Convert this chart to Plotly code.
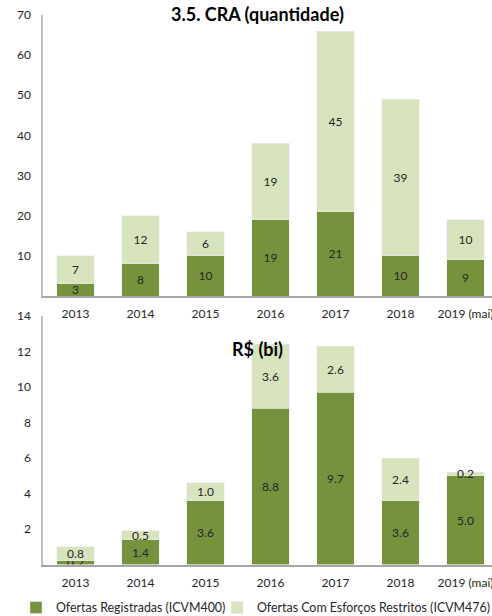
import plotly.graph_objects as go

years = ["2013", "2014", "2015", "2016", "2017", "2018", "2019 (mai)"]
qtd_registradas = [3, 8, 10, 19, 21, 10, 9]
qtd_restritas = [7, 12, 6, 19, 45, 39, 10]
val_registradas = [0.2, 1.4, 3.6, 8.8, 9.7, 3.6, 5.0]
val_restritas = [0.8, 0.5, 1.0, 3.6, 2.6, 2.4, 0.2]
name_reg = "Ofertas Registradas (ICVM400)"
name_res = "Ofertas Com Esforços Restritos (ICVM476)"
top_ticks = [10, 20, 30, 40, 50, 60, 70]
bot_ticks = [2, 4, 6, 8, 10, 12, 14]

DARK = "#76923C"
LIGHT = "#D7E4BD"
FONT = "Lato"
TXT = "#262626"

fig = go.Figure()
common = dict(textposition="inside", insidetextanchor="middle", textangle=0,
              textfont=dict(family=FONT, size=12, color=TXT), hoverinfo="skip")
fig.add_trace(go.Bar(x=years, y=qtd_registradas, name=name_reg, marker_color=DARK,
                     text=[str(v) for v in qtd_registradas], xaxis="x", yaxis="y",
                     showlegend=False, **common))
fig.add_trace(go.Bar(x=years, y=qtd_restritas, name=name_res, marker_color=LIGHT,
                     text=[str(v) for v in qtd_restritas], xaxis="x", yaxis="y",
                     showlegend=False, **common))
fig.add_trace(go.Bar(x=years, y=val_registradas, name=name_reg, marker_color=DARK,
                     text=[f"{v:.1f}" for v in val_registradas], xaxis="x2", yaxis="y2",
                     legend="legend", **common))
fig.add_trace(go.Bar(x=years, y=val_restritas, name=name_res, marker_color=LIGHT,
                     text=[f"{v:.1f}" for v in val_restritas], xaxis="x2", yaxis="y2",
                     legend="legend2", **common))

H = 616.0
W = 492.0
xdom = [43 / W, 1.0]
xrange_ = [-0.5, 6.5 - 6 / 65.0]
axis_font = dict(family=FONT, size=12, color=TXT)

xcommon = dict(domain=xdom, range=xrange_, showline=True, linecolor="#A6A6A6", linewidth=1.5,
               showgrid=False, zeroline=False, ticks="outside", ticklen=0,
               ticklabelstandoff=6, tickfont=axis_font, automargin=False, type="category")
ycommon = dict(showline=True, linecolor="#BFBFBF", linewidth=1.5, showgrid=False,
               zeroline=False, ticks="", ticklabelstandoff=8, tickfont=axis_font,
               automargin=False)
leg_common = dict(orientation="h", yanchor="middle", y=1 - 608 / H, xanchor="left",
                  font=dict(family=FONT, size=12.4, color=TXT), itemwidth=30,
                  bgcolor="rgba(0,0,0,0)", borderwidth=0)

fig.update_layout(
    width=492, height=616,
    margin=dict(l=0, r=0, t=0, b=0, autoexpand=False),
    paper_bgcolor="white", plot_bgcolor="white",
    barmode="stack", bargap=0.43,
    uniformtext=dict(minsize=12, mode="show"),
    font=dict(family=FONT, color=TXT),
    xaxis=dict(anchor="y", **xcommon),
    yaxis=dict(domain=[1 - 296 / H, 1 - 15 / H], range=[0, 70], tickvals=top_ticks,
               anchor="x", **ycommon),
    xaxis2=dict(anchor="y2", **xcommon),
    yaxis2=dict(domain=[1 - 564.5 / H, 1 - 316 / H], range=[0, 14], tickvals=bot_ticks,
                anchor="x2", **ycommon),
    legend=dict(x=16 / W, **leg_common),
    legend2=dict(x=217 / W, **leg_common),
    annotations=[
        dict(text="<b>3.5. CRA (quantidade)</b>", x=257 / W, y=1 - 14 / H, xref="paper",
             yref="paper", showarrow=False, xanchor="center", yanchor="middle",
             font=dict(family=FONT, size=18, color="#000000")),
        dict(text="<b>R$ (bi)</b>", x=257 / W, y=1 - 349 / H, xref="paper",
             yref="paper", showarrow=False, xanchor="center", yanchor="middle",
             font=dict(family=FONT, size=18, color="#000000")),
    ],
)

fig.write_html("out.html", config={"displayModeBar": False},
               post_script="document.body.style.margin='0';document.body.style.overflow='hidden';")
